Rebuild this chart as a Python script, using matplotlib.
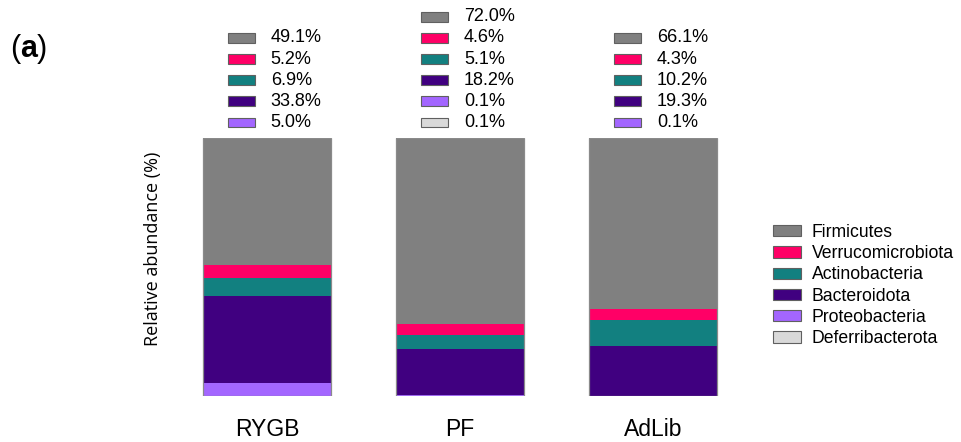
import numpy as np
import matplotlib.pyplot as plt
from matplotlib.patches import Patch, Rectangle

plt.rcParams['font.family'] = ['Liberation Sans', 'DejaVu Sans']

groups = ['RYGB', 'PF', 'AdLib']
phyla = ['Firmicutes', 'Verrucomicrobiota', 'Actinobacteria',
         'Bacteroidota', 'Proteobacteria', 'Deferribacterota']
colors = ['#808080', '#FF0066', '#128080', '#400080', '#A366FF', '#D9D9D9']

# percentages per group, same order as phyla (0 = not present)
rygb = [49.1, 5.2, 6.9, 33.8, 5.0, 0.0]
pf = [72.0, 4.6, 5.1, 18.2, 0.1, 0.1]
adlib = [66.1, 4.3, 10.2, 19.3, 0.1, 0.0]
values = [rygb, pf, adlib]

fig = plt.figure(figsize=(9.62, 4.42), dpi=100)
ax = fig.add_axes([160/962, 46/442, 600/962, 258/442])

ind = np.arange(len(groups))
width = 0.667

for i, vals in enumerate(values):
    bottom = 0
    # stack from the bottom: last phylum first
    for v, c in zip(vals[::-1], colors[::-1]):
        if v > 0:
            ax.bar(ind[i], v, width, bottom=bottom, color=c, linewidth=0)
            bottom += v
    ax.bar(ind[i], bottom, width, fill=False, edgecolor='#8a8a8a', linewidth=0.9)

    # label column above the bar
    present = [(v, c) for v, c in zip(vals, colors) if v > 0]
    n = len(present)
    for k, (v, c) in enumerate(present):
        y = 106.0 + (n - 1 - k) * 8.2
        ax.add_patch(Rectangle((ind[i] - 0.202, y - 1.9), 0.14, 3.8,
                               facecolor=c, edgecolor='#606060', linewidth=0.8,
                               clip_on=False))
        ax.text(ind[i] + 0.02, y, '%.1f%%' % v, fontsize=13,
                ha='left', va='center', clip_on=False)

ax.set_xlim(-0.554, 2.554)
ax.set_ylim(0, 100)
ax.set_xticks(ind)
ax.set_xticklabels(groups, fontsize=16.5)
ax.tick_params(axis='x', length=0, pad=16)
ax.set_yticks([])
for s in ax.spines.values():
    s.set_visible(False)

fig.text(153/962, 1 - 249/442, 'Relative abundance (%)', rotation=90,
         ha='center', va='center', fontsize=13, family=['Open Sans', 'DejaVu Sans'])

handles = [Patch(facecolor=c, edgecolor='#606060', linewidth=0.8) for c in colors]
fig.legend(handles, phyla, loc='upper left', bbox_to_anchor=(773/962, 1 - 224/442),
           frameon=False, fontsize=12.7, handlelength=1.6, handleheight=0.6,
           handletextpad=0.6, labelspacing=0.24, borderpad=0, borderaxespad=0)

# panel tag "(a)" with bold letter
t1 = fig.text(10/962, 1 - 49/442, '(', fontsize=22, va='center', ha='left')
t2 = fig.text(0, 0, 'a', fontsize=22, fontweight='bold', va='center', ha='left')
t3 = fig.text(0, 0, ')', fontsize=22, va='center', ha='left')
fig.canvas.draw()
r = fig.canvas.get_renderer()
bb1 = t1.get_window_extent(r)
t2.set_position((bb1.x1 / fig.bbox.width, 1 - 49/442))
fig.canvas.draw()
bb2 = t2.get_window_extent(r)
t3.set_position((bb2.x1 / fig.bbox.width, 1 - 49/442))

fig.savefig('out.png', dpi=100)
